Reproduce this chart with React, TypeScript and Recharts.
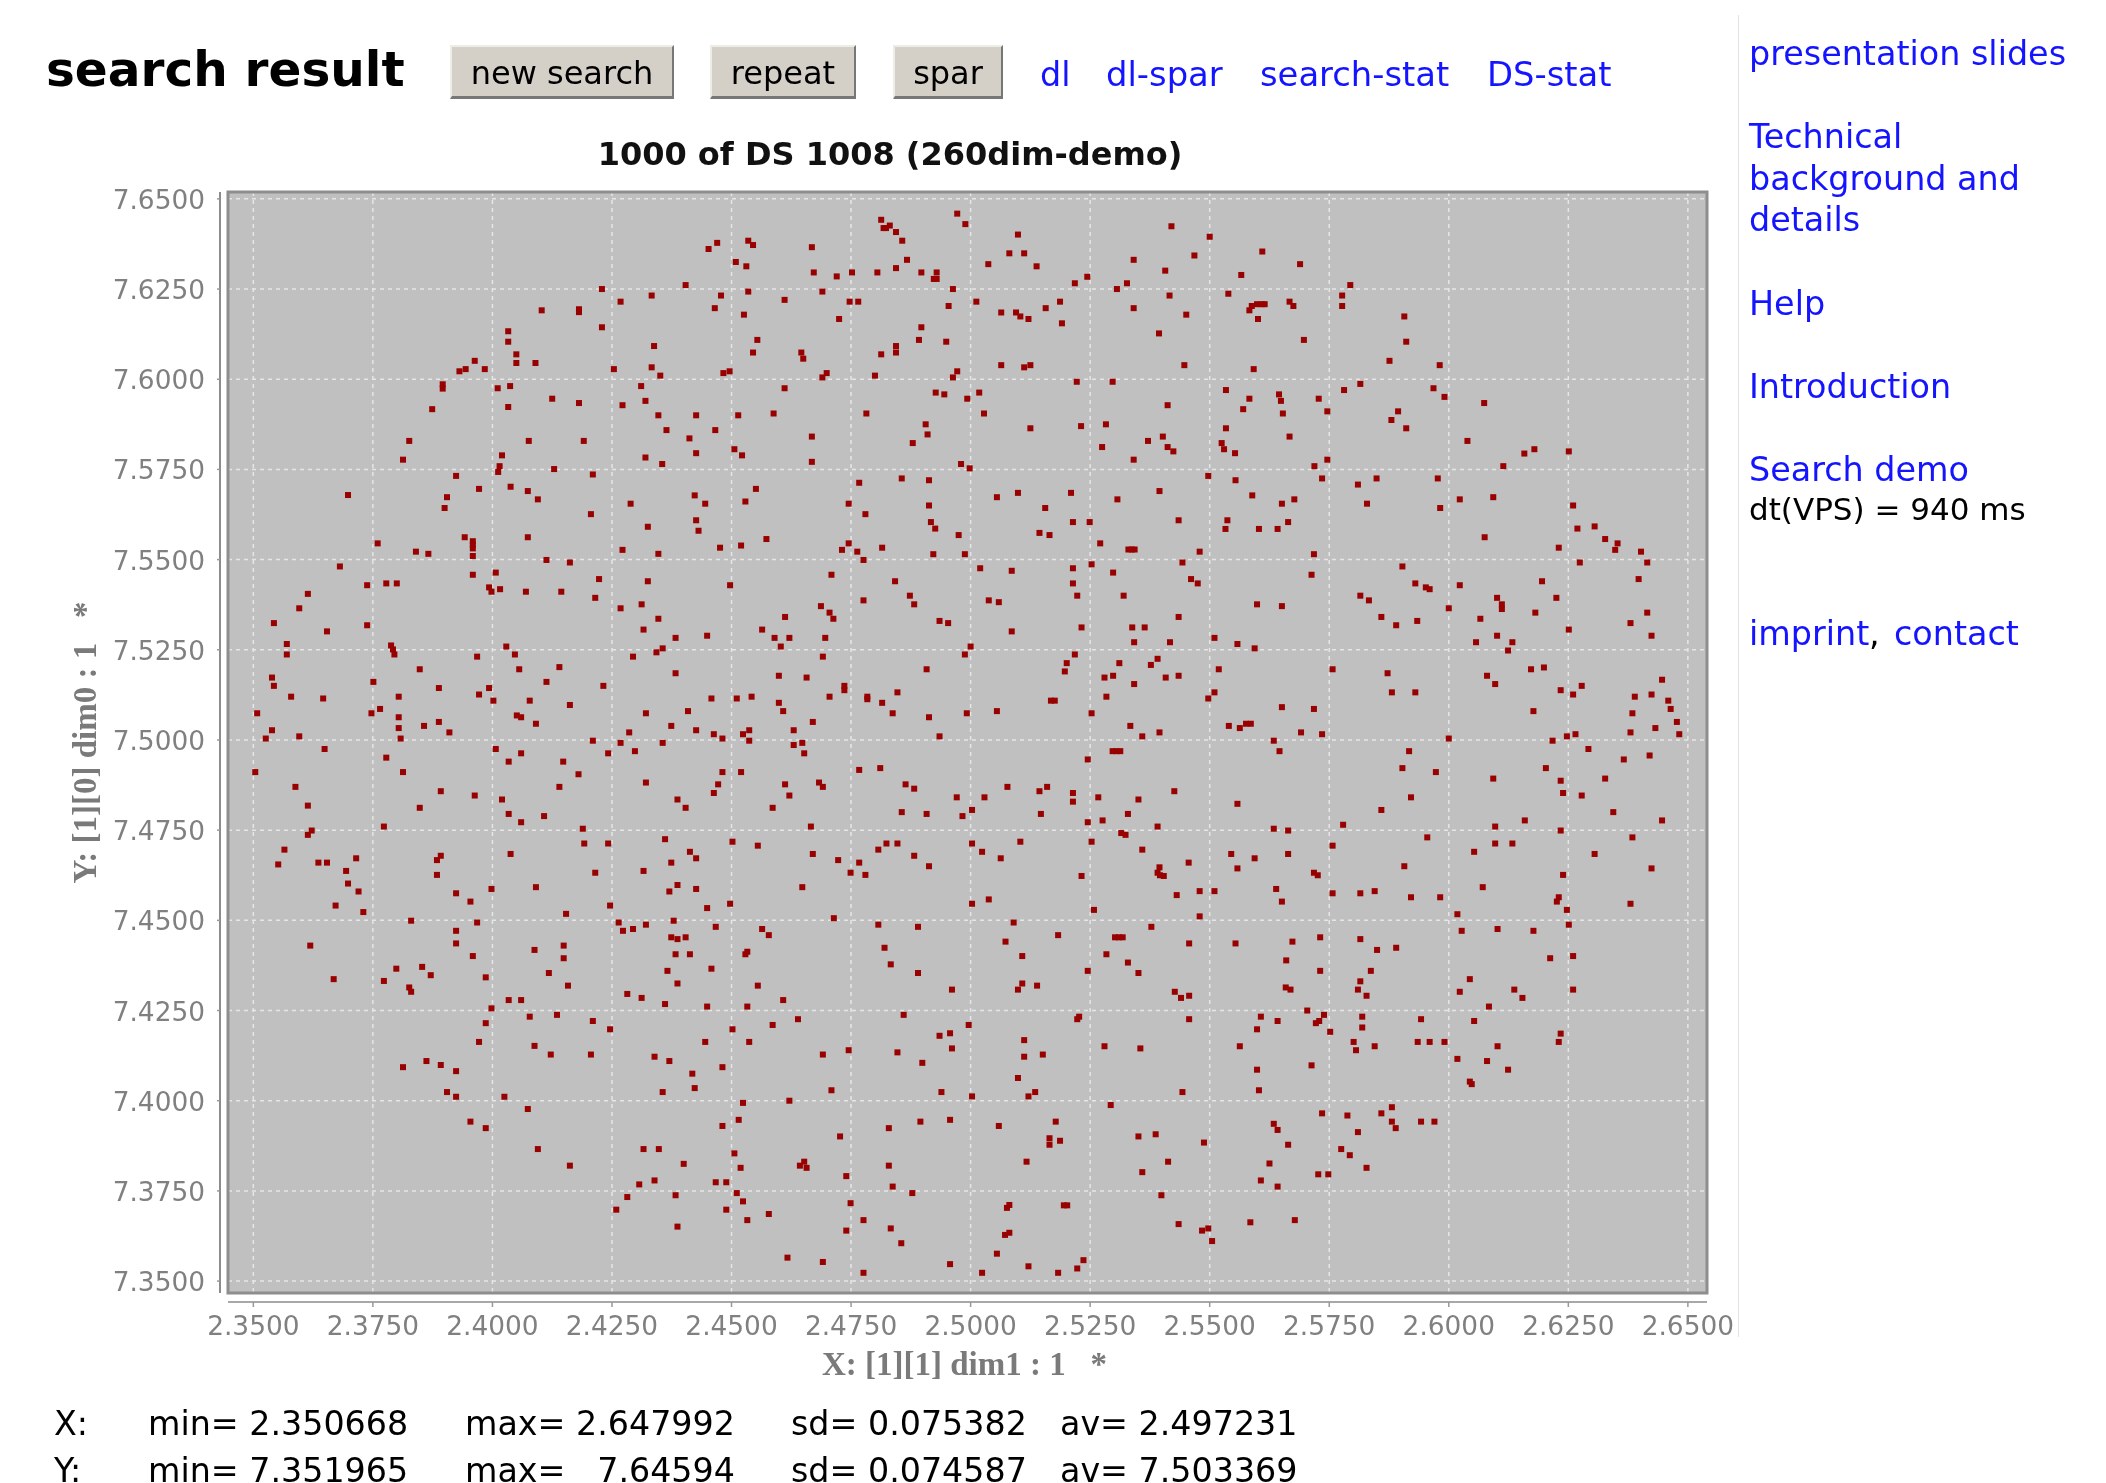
import React from "react";
import {
  ScatterChart,
  Scatter,
  XAxis,
  YAxis,
  CartesianGrid,
  ReferenceArea,
} from "recharts";

const xTicks = [2.35, 2.375, 2.4, 2.425, 2.45, 2.475, 2.5, 2.525, 2.55, 2.575, 2.6, 2.625, 2.65];
const yTicks = [7.35, 7.375, 7.4, 7.425, 7.45, 7.475, 7.5, 7.525, 7.55, 7.575, 7.6, 7.625, 7.65];
const xDomain = [2.3447, 2.654];
const yDomain = [7.3467, 7.6519];

// [dim1, dim0], one list per part of the plot
const hitsTopLeft: [number, number][] = [
  [2.4103,7.6191],[2.4181,7.6194],[2.4181,7.6186],[2.4033,7.6133],[2.4033,7.6104],[2.405,7.6069],[2.405,7.6045],[2.409,7.6045],[2.3963,7.6051],[2.3984,7.6028],[2.3944,7.6028],[2.3931,7.6022],[2.4011,7.5975],[2.4037,7.5981],[2.3896,7.5986],[2.3896,7.5974],[2.4125,7.5946],[2.4181,7.5934],[2.4033,7.5923],[2.3874,7.5917],[2.3826,7.5829],[2.4076,7.5829],[2.4191,7.5829],[2.402,7.5789],[2.3813,7.5777],[2.4015,7.5759],[2.4129,7.5751],
  [2.4229,7.625],[2.4229,7.6144],[2.4268,7.6215],[2.4333,7.6232],[2.4404,7.6261],[2.4452,7.6361],[2.447,7.6378],[2.4509,7.6325],[2.4531,7.6313],[2.4535,7.6384],[2.4545,7.6372],[2.4478,7.6232],[2.4535,7.6243],[2.4465,7.6197],[2.4526,7.6179],[2.4611,7.622],[2.4668,7.6366],[2.4672,7.6296],[2.472,7.6285],[2.4752,7.6296],[2.469,7.6243],[2.4747,7.6215],[2.4765,7.6215],[2.4725,7.6167],[2.4805,7.6296],[2.4844,7.6308],[2.4867,7.6331],[2.4813,7.6442],[2.4818,7.6419],[2.4823,7.6419],[2.4831,7.6426],[2.4844,7.6408],[2.4857,7.6384],[2.4897,7.6296],[2.4929,7.6296],[2.4923,7.6278],[2.4929,7.6278],[2.4972,7.6459],[2.4989,7.643],[2.4963,7.625],[2.4954,7.6203],[2.5012,7.6215],[2.4897,7.6144],[2.4892,7.6109],[2.4949,7.6104],[2.4844,7.6092],[2.4844,7.6074],[2.4813,7.6069],[2.48,7.601],[2.4972,7.6022],[2.4963,7.6005],[2.4927,7.5963],[2.4945,7.5958],[2.4993,7.5946],[2.5018,7.5963],[2.4906,7.5875],[2.491,7.5847],[2.4879,7.5823],[2.4782,7.5905],[2.4668,7.5841],[2.4668,7.5771],[2.498,7.5765],[2.4998,7.5753],[2.4554,7.6109],[2.4545,7.6074],[2.4646,7.6074],[2.465,7.6057],[2.4699,7.6017],[2.469,7.6005],[2.4611,7.5975],[2.4496,7.6022],[2.4483,7.6017],[2.4588,7.5905],[2.4514,7.59],[2.4426,7.59],[2.4466,7.5859],[2.4412,7.5836],[2.4426,7.5795],[2.4506,7.5806],[2.4522,7.5789],[2.4338,7.6092],[2.4254,7.6028],[2.4333,7.6033],[2.4351,7.601],[2.4311,7.5981],[2.432,7.594],[2.4272,7.5928],[2.4347,7.59],[2.4364,7.5859],[2.432,7.5783],[2.4355,7.5765],
];

const hitsTopRight: [number, number][] = [
  [2.5099,7.6401],[2.5081,7.6349],[2.5112,7.6349],[2.5037,7.6319],[2.5138,7.6313],[2.5244,7.6284],[2.5218,7.6266],[2.5187,7.6215],[2.5157,7.6197],[2.5064,7.6185],[2.5095,7.6185],[2.5104,7.6174],[2.5121,7.6167],[2.5191,7.6155],[2.5064,7.6039],[2.5112,7.6033],[2.5125,7.6039],[2.5222,7.5993],[2.5297,7.5993],[2.5028,7.5905],[2.5125,7.5864],[2.5231,7.587],[2.5283,7.5875],[2.5275,7.5812],[2.5341,7.5777],[2.5371,7.5829],[2.5402,7.5841],[2.5412,7.5812],[2.5424,7.58],[2.5412,7.5928],[2.5447,7.6039],[2.5394,7.6127],[2.5451,7.6179],[2.5416,7.6232],[2.5341,7.6197],[2.5306,7.625],[2.5327,7.6266],[2.5341,7.6331],[2.5407,7.6301],[2.542,7.6424],[2.5468,7.6343],[2.55,7.6395],[2.5566,7.6289],[2.5539,7.6237],[2.561,7.6354],[2.5689,7.6319],[2.5583,7.6191],[2.5588,7.6203],[2.5599,7.6208],[2.5609,7.6208],[2.5615,7.6208],[2.5601,7.6167],[2.5667,7.6215],[2.5675,7.6203],[2.5697,7.6109],[2.5592,7.6028],[2.5534,7.597],[2.5583,7.5946],[2.557,7.5917],[2.5645,7.5958],[2.5649,7.594],[2.5653,7.5905],[2.5534,7.5864],[2.5525,7.5823],[2.553,7.5806],[2.5553,7.5795],[2.5667,7.5841],[2.5728,7.5946],[2.5746,7.5911],[2.5781,7.597],[2.5815,7.5987],[2.5777,7.6232],[2.5777,7.6203],[2.5794,7.6261],[2.5746,7.5777],[2.5719,7.5759],
  [2.5907,7.6174],[2.5911,7.6104],[2.5876,7.6051],[2.5981,7.6039],[2.5968,7.5975],[2.5991,7.5951],[2.6074,7.5934],[2.5894,7.5911],[2.588,7.5887],[2.5911,7.5864],[2.6039,7.5829],[2.6158,7.5794],[2.6179,7.5806],[2.6251,7.58],[2.6114,7.5759],
];

const hitsMiddleLeft: [number, number][] = [
  [2.3698,7.5679],[2.3924,7.5732],[2.4012,7.5743],[2.421,7.5736],[2.3905,7.5673],[2.39,7.5643],[2.3972,7.5696],[2.4038,7.5702],[2.4074,7.569],[2.4095,7.5667],[2.4206,7.5626],[2.4289,7.5655],[2.4423,7.5678],[2.4445,7.5655],[2.4551,7.5696],[2.4529,7.5661],[2.4767,7.5713],[2.4745,7.5655],[2.478,7.5626],[2.4856,7.5725],[2.4913,7.572],[2.4913,7.565],[2.4917,7.5604],[2.4926,7.5586],[2.4975,7.5568],[2.4988,7.5515],[2.4922,7.5515],[2.4325,7.5591],[2.4426,7.5609],[2.4431,7.558],[2.376,7.5545],[2.384,7.5522],[2.3866,7.5516],[2.3942,7.5562],[2.3959,7.5551],[2.3959,7.5541],[2.3959,7.5531],[2.3959,7.551],[2.4074,7.5562],[2.4113,7.5499],[2.4162,7.5492],[2.4272,7.5527],[2.4347,7.5516],[2.4476,7.5533],[2.452,7.5539],[2.4573,7.5557],[2.4745,7.5545],[2.4731,7.5527],[2.4763,7.5522],[2.4776,7.5499],[2.4815,7.5533],[2.3681,7.5481],[2.3738,7.5429],[2.3778,7.5434],[2.38,7.5434],[2.3959,7.5458],[2.4007,7.5464],[2.3993,7.5423],[2.3998,7.5411],[2.4016,7.5418],[2.407,7.5411],[2.4144,7.5411],[2.4223,7.5446],[2.4215,7.5394],[2.4325,7.544],[2.4497,7.5429],[2.4709,7.5458],[2.4842,7.544],[2.4873,7.54],[2.4882,7.5376],[2.4776,7.5387],[2.4687,7.5371],[2.4705,7.5353],[2.4713,7.5336],[2.4612,7.5341],[2.4564,7.5306],[2.459,7.5283],[2.4621,7.5283],[2.4603,7.5259],[2.4696,7.5283],[2.4691,7.5231],[2.4935,7.533],[2.4953,7.5324],[2.5,7.5259],[2.4988,7.5237],[2.4908,7.5196],[2.3614,7.5405],[2.3596,7.5365],[2.3543,7.5324],[2.3654,7.5301],[2.3738,7.5318],[2.357,7.5266],[2.357,7.5237],[2.4268,7.5365],[2.4312,7.5376],[2.4347,7.5336],[2.4316,7.5306],[2.4383,7.5283],[2.4449,7.5289],[2.4356,7.5254],[2.4343,7.5243],[2.4294,7.5231],[2.3788,7.5262],[2.3792,7.5251],[2.3795,7.5237],[2.4029,7.5259],[2.4047,7.5237],[2.3968,7.5231],[2.3848,7.5196],[2.4056,7.5196],[2.414,7.5202],[2.4113,7.5161],[2.4383,7.5185],[2.4232,7.515],[2.3539,7.5173],[2.3543,7.515],[2.3751,7.5161],[2.3888,7.5144],[2.3993,7.5144],[2.3579,7.512],[2.3646,7.5115],[2.3804,7.512],[2.3972,7.5126],[2.4002,7.5109],[2.4078,7.5109],[2.4162,7.5097],[2.3508,7.5074],[2.3747,7.5074],[2.3765,7.5086],[2.3804,7.5063],[2.3804,7.5033],[2.3857,7.5039],[2.3888,7.505],[2.391,7.5021],[2.4051,7.5068],[2.406,7.5063],[2.4091,7.5045],[2.3539,7.5027],[2.3526,7.5004],[2.3596,7.501],[2.3808,7.5004],[2.3649,7.4975],[2.3778,7.4951],[2.4007,7.4975],[2.406,7.4963],[2.4034,7.494],[2.421,7.4998],[2.4268,7.4992],[2.4286,7.5021],[2.4242,7.4963],[2.4298,7.4969],[2.4321,7.5074],[2.4374,7.5039],[2.4356,7.4992],[2.4409,7.508],[2.4458,7.5115],[2.4511,7.5115],[2.4542,7.512],[2.4426,7.5027],[2.4463,7.5016],[2.4481,7.5004],[2.4524,7.5016],[2.4537,7.5027],[2.4537,7.4998],[2.463,7.5027],[2.463,7.4986],[2.4648,7.4992],[2.4652,7.4963],[2.467,7.505],[2.4599,7.5103],[2.4608,7.508],[2.4599,7.5178],[2.4657,7.5173],[2.4705,7.512],[2.4736,7.515],[2.4736,7.5138],[2.4784,7.512],[2.4784,7.5113],[2.4815,7.5103],[2.4847,7.5132],[2.4837,7.5074],[2.4913,7.5063],[2.4992,7.5074],[2.4935,7.501],[2.4148,7.494],[2.418,7.4905],[2.414,7.487],[2.3504,7.4911],[2.3813,7.4911],[2.3588,7.487],[2.3892,7.4858],[2.3963,7.4846],[2.402,7.4835],[2.3614,7.4818],[2.3848,7.4812],[2.4034,7.4795],[2.4108,7.4789],[2.406,7.4772],[2.3773,7.476],[2.3622,7.4749],[2.3614,7.4737],[2.4189,7.4754],[2.4192,7.4713],[2.4242,7.4713],[2.3565,7.4696],[2.4321,7.4882],[2.4387,7.4835],[2.4404,7.4812],[2.4481,7.4911],[2.452,7.4911],[2.4472,7.4877],[2.4463,7.4853],[2.4612,7.4877],[2.4621,7.4846],[2.4586,7.4812],[2.4683,7.4882],[2.4691,7.487],[2.4767,7.4917],[2.4811,7.4922],[2.4864,7.4877],[2.4882,7.4865],[2.4971,7.4841],[2.4856,7.48],[2.4908,7.4795],[2.4983,7.4789],[2.4666,7.476],[2.4361,7.4725],[2.4502,7.4718],[2.4555,7.4707],[2.4807,7.4696],[2.4824,7.4713],[2.4847,7.4713],[2.4413,7.469],[2.4426,7.4672],[2.467,7.4684],[2.4723,7.4667],[2.4767,7.466],[2.4882,7.4679],[2.4913,7.465],[2.4038,7.4684],[2.3892,7.4679],[2.3884,7.4667],[2.3715,7.4672],[2.3636,7.466],[2.3654,7.466],[2.3552,7.4655],[2.3694,7.4637],[2.3884,7.4626],[2.4215,7.4632],[2.4316,7.4637],[2.4374,7.466],[2.4749,7.4632],[2.478,7.4626],
];

const hitsMiddleRight: [number, number][] = [
  [2.5055,7.5673],[2.5099,7.5685],[2.521,7.5685],[2.5307,7.5667],[2.5395,7.569],[2.5156,7.5643],[2.5497,7.5732],[2.5554,7.572],[2.5735,7.5725],[2.581,7.5708],[2.5849,7.5725],[2.5977,7.5725],[2.5589,7.5678],[2.5651,7.5655],[2.5677,7.5667],[2.5829,7.5655],[2.5982,7.5643],[2.6023,7.5667],[2.6093,7.5673],[2.626,7.565],[2.5214,7.5604],[2.5249,7.5604],[2.5435,7.5609],[2.5537,7.5609],[2.5533,7.5585],[2.5603,7.5585],[2.5642,7.5585],[2.5664,7.5604],[2.5144,7.5574],[2.5165,7.5568],[2.5271,7.5545],[2.533,7.5528],[2.5337,7.5528],[2.5343,7.5528],[2.5479,7.5522],[2.5718,7.5515],[2.6075,7.5562],[2.6269,7.5586],[2.6305,7.5592],[2.6327,7.5557],[2.6353,7.5545],[2.6348,7.5527],[2.623,7.5533],[2.6402,7.5522],[2.6415,7.5492],[2.6274,7.5492],[2.5903,7.5481],[2.502,7.5476],[2.5086,7.5469],[2.5214,7.5476],[2.5253,7.5487],[2.5298,7.5464],[2.5443,7.5492],[2.5713,7.5458],[2.5461,7.5446],[2.5475,7.5434],[2.5214,7.5434],[2.5223,7.54],[2.532,7.54],[2.5038,7.5387],[2.5059,7.5382],[2.5599,7.5376],[2.5651,7.5371],[2.5815,7.54],[2.5833,7.5387],[2.593,7.5434],[2.5952,7.5423],[2.596,7.5418],[2.6023,7.5429],[2.6101,7.5394],[2.6111,7.5376],[2.6111,7.5363],[2.6,7.5365],[2.6195,7.544],[2.6225,7.5394],[2.6397,7.5446],[2.6181,7.5353],[2.6415,7.5353],[2.5435,7.5341],[2.5232,7.5312],[2.5338,7.5312],[2.5364,7.5312],[2.5086,7.5301],[2.5859,7.5341],[2.589,7.5318],[2.5934,7.533],[2.6066,7.5336],[2.6251,7.5306],[2.638,7.5324],[2.6424,7.5289],[2.6101,7.5289],[2.6057,7.5271],[2.6133,7.5271],[2.6124,7.5248],[2.5342,7.5271],[2.5417,7.5271],[2.551,7.5283],[2.5558,7.5266],[2.5594,7.5254],[2.5218,7.5237],[2.5201,7.5213],[2.5197,7.519],[2.5311,7.5213],[2.5391,7.5225],[2.5377,7.5208],[2.5298,7.5178],[2.528,7.5173],[2.5408,7.5173],[2.5435,7.5178],[2.5519,7.5196],[2.5342,7.5155],[2.5757,7.5196],[2.5872,7.5185],[2.5881,7.5132],[2.593,7.5132],[2.608,7.5178],[2.6097,7.5155],[2.6172,7.5196],[2.6199,7.5201],[2.6234,7.5138],[2.6278,7.515],[2.626,7.5126],[2.6446,7.5167],[2.6389,7.512],[2.6424,7.5126],[2.6459,7.5109],[2.6464,7.5086],[2.6384,7.5074],[2.6477,7.505],[2.6432,7.5033],[2.638,7.5021],[2.6482,7.5016],[2.6177,7.508],[2.551,7.5132],[2.5497,7.5115],[2.5284,7.512],[2.5168,7.5109],[2.5176,7.5109],[2.5055,7.508],[2.5253,7.5074],[2.5651,7.5091],[2.5718,7.5086],[2.5334,7.5039],[2.5359,7.501],[2.5395,7.5021],[2.554,7.5039],[2.5563,7.5033],[2.5576,7.5045],[2.5586,7.5045],[2.5691,7.5021],[2.5735,7.5016],[2.5634,7.4998],[2.5646,7.4969],[2.6,7.5004],[2.6217,7.4998],[2.6247,7.501],[2.6265,7.5016],[2.6292,7.4975],[2.6366,7.4946],[2.642,7.4957],[2.5297,7.4969],[2.5305,7.4969],[2.5313,7.4969],[2.5245,7.4946],[2.5917,7.4969],[2.5903,7.4922],[2.5973,7.4911],[2.6093,7.4893],[2.6203,7.4922],[2.6234,7.4887],[2.6327,7.4893],[2.6239,7.4853],[2.6278,7.4846],[2.5921,7.4841],[2.5077,7.487],[2.5144,7.4858],[2.516,7.487],[2.5214,7.4853],[2.5214,7.4829],[2.5029,7.4841],[2.5267,7.4841],[2.5351,7.4835],[2.5426,7.4858],[2.5558,7.4823],[2.5003,7.4806],[2.5147,7.4795],[2.5329,7.4795],[2.5859,7.4806],[2.6344,7.48],[2.5245,7.4772],[2.5276,7.4777],[2.6159,7.4777],[2.6446,7.4777],[2.5779,7.4765],[2.5391,7.476],[2.5634,7.4754],[2.5664,7.4749],[2.6097,7.476],[2.6234,7.4749],[2.5315,7.4742],[2.5324,7.4737],[2.5955,7.473],[2.6384,7.473],[2.5003,7.4713],[2.5104,7.4718],[2.5253,7.4718],[2.6097,7.4713],[2.6133,7.4713],[2.5757,7.4707],[2.5359,7.4696],[2.5024,7.469],[2.6053,7.469],[2.5545,7.4684],[2.5664,7.4684],[2.6305,7.4684],[2.5063,7.4672],[2.5594,7.4672],[2.5456,7.466],[2.5395,7.4647],[2.5558,7.4644],[2.5907,7.465],[2.6424,7.4644],[2.5391,7.4632],[2.5718,7.4632],[2.6239,7.4626],[2.5232,7.4623],[2.5726,7.4625],[2.5396,7.4625],[2.5404,7.4623],
];

const hitsBottomLeft: [number, number][] = [
  [2.3698,7.4602],[2.372,7.458],[2.3924,7.4575],[2.3998,7.4587],[2.4091,7.4592],[2.437,7.458],[2.4387,7.4598],[2.4426,7.4587],[2.4648,7.4592],[2.3672,7.4541],[2.373,7.4523],[2.3954,7.4552],[2.4246,7.4541],[2.4449,7.4534],[2.4497,7.4546],[2.4154,7.4518],[2.383,7.4499],[2.3968,7.4494],[2.4264,7.4494],[2.4379,7.4499],[2.4321,7.4488],[2.4467,7.4482],[2.4714,7.4506],[2.4807,7.4488],[2.489,7.4482],[2.3924,7.4471],[2.4273,7.4471],[2.4294,7.4476],[2.4564,7.4476],[2.4578,7.4459],[2.4374,7.4453],[2.4387,7.4448],[2.4404,7.4453],[2.3619,7.443],[2.3924,7.4436],[2.4149,7.443],[2.4088,7.4418],[2.482,7.4424],[2.3959,7.4401],[2.4149,7.4395],[2.4383,7.4406],[2.4413,7.4406],[2.4533,7.4413],[2.4529,7.4406],[2.4833,7.4378],[2.3799,7.4366],[2.3853,7.4371],[2.3871,7.4348],[2.4366,7.436],[2.4458,7.4366],[2.4118,7.4354],[2.489,7.4354],[2.3668,7.4337],[2.3773,7.4332],[2.3986,7.4342],[2.3826,7.4314],[2.383,7.4302],[2.4158,7.4319],[2.4387,7.4325],[2.4555,7.4319],[2.4961,7.4308],[2.4034,7.4279],[2.406,7.4279],[2.4282,7.4296],[2.4312,7.4285],[2.4361,7.4268],[2.4449,7.4261],[2.4533,7.4261],[2.4608,7.4279],[2.3998,7.4256],[2.4078,7.4233],[2.4135,7.4238],[2.421,7.4221],[2.4639,7.4226],[2.486,7.4238],[2.3986,7.4215],[2.4246,7.4198],[2.4502,7.4198],[2.4586,7.421],[2.4996,7.421],[2.4935,7.418],[2.4957,7.4187],[2.3972,7.4163],[2.4445,7.4163],[2.4537,7.4163],[2.4088,7.4152],[2.4122,7.4128],[2.4206,7.4128],[2.4339,7.4122],[2.4691,7.4128],[2.4745,7.414],[2.4847,7.4134],[2.4961,7.4145],[2.437,7.411],[2.4899,7.4105],[2.3862,7.411],[2.3892,7.4099],[2.3813,7.4093],[2.3924,7.4082],[2.4481,7.4093],[2.4418,7.4075],[2.4423,7.4035],[2.4356,7.4024],[2.4709,7.4029],[2.4939,7.4024],[2.3905,7.4024],[2.3924,7.4011],[2.4025,7.4011],[2.4621,7.4],[2.4524,7.3994],[2.4074,7.3977],[2.4515,7.3947],[2.4481,7.393],[2.3954,7.3942],[2.3986,7.3924],[2.4829,7.3924],[2.4895,7.3942],[2.4957,7.3947],[2.4727,7.3901],[2.4095,7.3866],[2.4316,7.3866],[2.4348,7.3866],[2.4506,7.3854],[2.44,7.3825],[2.4162,7.382],[2.4519,7.3814],[2.4829,7.382],[2.4652,7.3831],[2.4643,7.382],[2.4657,7.3814],[2.474,7.3791],[2.4307,7.3768],[2.4339,7.3779],[2.4467,7.3774],[2.4489,7.3774],[2.4837,7.3762],[2.4878,7.3744],[2.4511,7.3744],[2.4383,7.3738],[2.4282,7.3733],[2.4524,7.3721],[2.4749,7.3716],[2.4259,7.3698],[2.4489,7.3698],[2.4578,7.3686],[2.4533,7.3669],[2.4776,7.3669],[2.4387,7.3651],[2.4833,7.3646],[2.474,7.364],[2.4855,7.3605],[2.4617,7.3565],[2.4691,7.3553],[2.4957,7.3547],[2.4776,7.3523],
];

const hitsBottomRight: [number, number][] = [
  [2.5003,7.4546],[2.5038,7.4558],[2.5431,7.457],[2.5479,7.4581],[2.551,7.4581],[2.5639,7.4587],[2.5651,7.4552],[2.5757,7.4575],[2.5815,7.4575],[2.5845,7.4581],[2.5921,7.4564],[2.5982,7.4564],[2.6071,7.4592],[2.623,7.4564],[2.6226,7.4552],[2.6247,7.4529],[2.638,7.4546],[2.5258,7.4529],[2.5479,7.4511],[2.6018,7.4517],[2.509,7.4494],[2.5378,7.4482],[2.6251,7.4488],[2.6027,7.4471],[2.6102,7.4476],[2.6177,7.4471],[2.5183,7.4459],[2.5302,7.4453],[2.531,7.4453],[2.5318,7.4453],[2.5731,7.4453],[2.5073,7.4441],[2.5457,7.4436],[2.5554,7.4436],[2.5673,7.4441],[2.5815,7.4448],[2.585,7.4418],[2.589,7.4424],[2.5108,7.4401],[2.5284,7.4406],[2.626,7.4401],[2.6212,7.4395],[2.5329,7.4383],[2.566,7.4389],[2.5245,7.436],[2.5351,7.4354],[2.5731,7.436],[2.5837,7.436],[2.6044,7.4337],[2.5108,7.4325],[2.5139,7.4319],[2.5815,7.4331],[2.5099,7.4308],[2.5427,7.4302],[2.5659,7.4314],[2.5669,7.4308],[2.581,7.4308],[2.6023,7.4302],[2.6137,7.4308],[2.626,7.4308],[2.544,7.4285],[2.5457,7.4291],[2.5828,7.4291],[2.6154,7.4285],[2.6084,7.4261],[2.5704,7.425],[2.5739,7.4238],[2.5607,7.4233],[2.5819,7.4233],[2.5227,7.4233],[2.5223,7.4226],[2.5457,7.4226],[2.5942,7.4226],[2.5642,7.4221],[2.5729,7.4221],[2.5722,7.4215],[2.6053,7.4221],[2.5599,7.4198],[2.5819,7.4203],[2.5752,7.4191],[2.6234,7.4186],[2.5112,7.4168],[2.5801,7.4163],[2.5935,7.4163],[2.596,7.4163],[2.5991,7.4163],[2.623,7.4163],[2.528,7.4151],[2.5563,7.4151],[2.5845,7.4151],[2.6102,7.4151],[2.5355,7.4145],[2.5806,7.414],[2.5151,7.4128],[2.5112,7.4122],[2.6018,7.4116],[2.608,7.411],[2.5713,7.4098],[2.5599,7.4086],[2.6124,7.4086],[2.5099,7.4063],[2.6044,7.4053],[2.6048,7.4046],[2.5135,7.4024],[2.5121,7.4012],[2.5443,7.4024],[2.5603,7.4029],[2.5003,7.4012],[2.5293,7.3988],[2.5881,7.3982],[2.5735,7.3965],[2.5859,7.3965],[2.5788,7.3959],[2.5178,7.3942],[2.5881,7.3942],[2.5942,7.3942],[2.597,7.3942],[2.5634,7.3936],[2.5059,7.393],[2.5889,7.3924],[2.5642,7.3919],[2.581,7.3913],[2.5387,7.3907],[2.5351,7.3901],[2.5165,7.3896],[2.5187,7.3889],[2.5165,7.3878],[2.5488,7.3884],[2.5664,7.3878],[2.5775,7.3866],[2.5793,7.3849],[2.5117,7.3831],[2.5413,7.3831],[2.5625,7.3826],[2.5828,7.3814],[2.5359,7.3802],[2.5727,7.3796],[2.5748,7.3796],[2.5607,7.3779],[2.5642,7.3762],[2.5399,7.3738],[2.5081,7.3711],[2.5076,7.3703],[2.5195,7.371],[2.5202,7.371],[2.5435,7.3658],[2.5585,7.3663],[2.5678,7.3669],[2.5497,7.3646],[2.5484,7.364],[2.5081,7.3634],[2.5072,7.3628],[2.5505,7.3611],[2.5055,7.3576],[2.5236,7.3558],[2.5121,7.3541],[2.5223,7.3535],[2.5024,7.3523],[2.5183,7.3523],
];

const allHits = [
  ...hitsTopLeft,
  ...hitsTopRight,
  ...hitsMiddleLeft,
  ...hitsMiddleRight,
  ...hitsBottomLeft,
  ...hitsBottomRight,
].map(([x, y]) => ({ x, y }));

const SANS = '"DejaVu Sans", sans-serif';
const BLUE = "#1414ff";

const Txt = ({ left, base, size, children, bold, color }: any) => (
  <div
    style={{
      position: "absolute",
      left,
      top: base - size * 0.928,
      fontFamily: SANS,
      fontSize: size,
      fontWeight: bold ? "bold" : "normal",
      color: color || "#000",
      whiteSpace: "pre",
    }}
  >
    {children}
  </div>
);

const Link = ({ left, base, size = 33.4, children }: any) => (
  <Txt left={left} base={base} size={size} color={BLUE}>
    {children}
  </Txt>
);

const Btn = ({ left, width, children }: any) => (
  <div
    style={{
      position: "absolute",
      left,
      top: 45,
      width,
      height: 54,
      boxSizing: "border-box",
      background: "#d4d0c8",
      borderTop: "2px solid #eeece6",
      borderLeft: "2px solid #eeece6",
      borderRight: "2px solid #777",
      borderBottom: "3px solid #777",
      fontFamily: SANS,
      fontSize: 32,
      lineHeight: "52px",
      textAlign: "center",
      whiteSpace: "pre",
      color: "#000",
    }}
  >
    {children}
  </div>
);

const XTick = ({ x, y, payload }: any) => (
  <g>
    <line x1={x} x2={x} y1={y + 9} y2={y + 14} stroke="#999" strokeWidth={1.5} />
    <text x={x} y={y + 42} textAnchor="middle" fontFamily={SANS} fontSize={26.4} fill="#808080">
      {payload.value.toFixed(4)}
    </text>
  </g>
);

const YTick = ({ x, y, payload }: any) => (
  <g>
    <line x1={x - 11} x2={x - 8} y1={y} y2={y} stroke="#999" strokeWidth={1.5} />
    <text x={x - 23} y={y + 10} textAnchor="end" fontFamily={SANS} fontSize={26.4} fill="#808080">
      {payload.value.toFixed(4)}
    </text>
  </g>
);

const Dot = ({ cx, cy }: any) => <rect x={cx - 3} y={cy - 3} width={6} height={6} fill="#990000" />;

const axisLabel = { fontFamily: '"Liberation Serif", serif', fontWeight: "bold", fontSize: 33, fill: "#7a7a7a" };

export default function App() {
  return (
    <div
      style={{
        position: "absolute",
        left: 0,
        top: 0,
        width: 2106,
        height: 1483,
        overflow: "hidden",
        background: "#fff",
        filter: "blur(0.5px)",
      }}
    >
      <Txt left={46} base={86} size={48.5} bold>
        search result
      </Txt>
      <Btn left={450} width={224}>new search</Btn>
      <Btn left={710} width={146}>repeat</Btn>
      <Btn left={893} width={110}>spar</Btn>
      <Link left={1040} base={86}>dl</Link>
      <Link left={1106} base={86} size={33.8}>dl-spar</Link>
      <Link left={1260} base={86} size={33.8}>search-stat</Link>
      <Link left={1487} base={86} size={33.8}>DS-stat</Link>

      <div style={{ position: "absolute", left: 1738, top: 15, width: 1, height: 1322, background: "#e2e2da" }} />
      <Link left={1749} base={65}>presentation slides</Link>
      <Link left={1749} base={148}>Technical</Link>
      <Link left={1749} base={190}>background and</Link>
      <Link left={1749} base={231}>details</Link>
      <Link left={1749} base={315}>Help</Link>
      <Link left={1749} base={398}>Introduction</Link>
      <Link left={1749} base={481}>Search demo</Link>
      <Txt left={1749} base={520} size={31}>dt(VPS) = 940 ms</Txt>
      <Link left={1749} base={645}>imprint</Link>
      <Txt left={1869} base={645} size={33.4}>,</Txt>
      <Link left={1894} base={645}>contact</Link>

      <div style={{ position: "absolute", left: 498, top: 135, width: 784, textAlign: "center", fontFamily: SANS, fontWeight: "bold", fontSize: 32, color: "#111", whiteSpace: "pre" }}>
        1000 of DS 1008 (260dim-demo)
      </div>

      {/* axis lines sit a few pixels off the plot */}
      <div style={{ position: "absolute", left: 219, top: 192, width: 2, height: 1101, background: "#8c8c8c" }} />
      <div style={{ position: "absolute", left: 228, top: 1301, width: 1479, height: 2, background: "#a8a8a8" }} />

      <div style={{ position: "absolute", left: 0, top: 0 }}>
        <ScatterChart
          width={1740}
          height={1400}
          margin={{ top: 192, right: 33, bottom: 7, left: 28 }}
        >
          <CartesianGrid
            fill="#c0c0c0"
            stroke="#e6e6e6"
            strokeWidth={1.5}
            strokeDasharray="4 4"
            horizontalValues={yTicks}
            verticalValues={xTicks}
          />
          <XAxis
            type="number"
            dataKey="x"
            domain={xDomain}
            ticks={xTicks}
            allowDataOverflow
            height={100}
            axisLine={false}
            tickLine={false}
            tickSize={0}
            tickMargin={0}
            interval={0}
            tick={<XTick />}
            label={{ value: "X: [1][1] dim1 : 1\u00a0\u00a0\u00a0*", position: "insideBottom", offset: 18, dx: -3, style: axisLabel }}
          />
          <YAxis
            type="number"
            dataKey="y"
            domain={yDomain}
            ticks={yTicks}
            allowDataOverflow
            width={200}
            axisLine={false}
            tickLine={false}
            tickSize={0}
            tickMargin={0}
            interval={0}
            tick={<YTick />}
            label={{ value: "Y: [1][0] dim0 : 1\u00a0\u00a0\u00a0*", angle: -90, position: "insideLeft", offset: 56, style: { ...axisLabel, textAnchor: "middle" } }}
          />
          <ReferenceArea
            x1={xDomain[0]}
            x2={xDomain[1]}
            y1={yDomain[0]}
            y2={yDomain[1]}
            fill="none"
            stroke="#8e8e8e"
            strokeWidth={3}
            ifOverflow="visible"
          />
          <Scatter data={allHits} shape={<Dot />} isAnimationActive={false} />
        </ScatterChart>
      </div>

      <Txt left={54} base={1435} size={33.3}>X:</Txt>
      <Txt left={148} base={1435} size={33.3}>min= 2.350668</Txt>
      <Txt left={465} base={1435} size={33.3}>max= 2.647992</Txt>
      <Txt left={791} base={1435} size={33.3}>sd= 0.075382</Txt>
      <Txt left={1060} base={1435} size={33.3}>av= 2.497231</Txt>
      <Txt left={54} base={1482} size={33.3}>Y:</Txt>
      <Txt left={148} base={1482} size={33.3}>min= 7.351965</Txt>
      <Txt left={465} base={1482} size={33.3}>max=   7.64594</Txt>
      <Txt left={791} base={1482} size={33.3}>sd= 0.074587</Txt>
      <Txt left={1060} base={1482} size={33.3}>av= 7.503369</Txt>
    </div>
  );
}
